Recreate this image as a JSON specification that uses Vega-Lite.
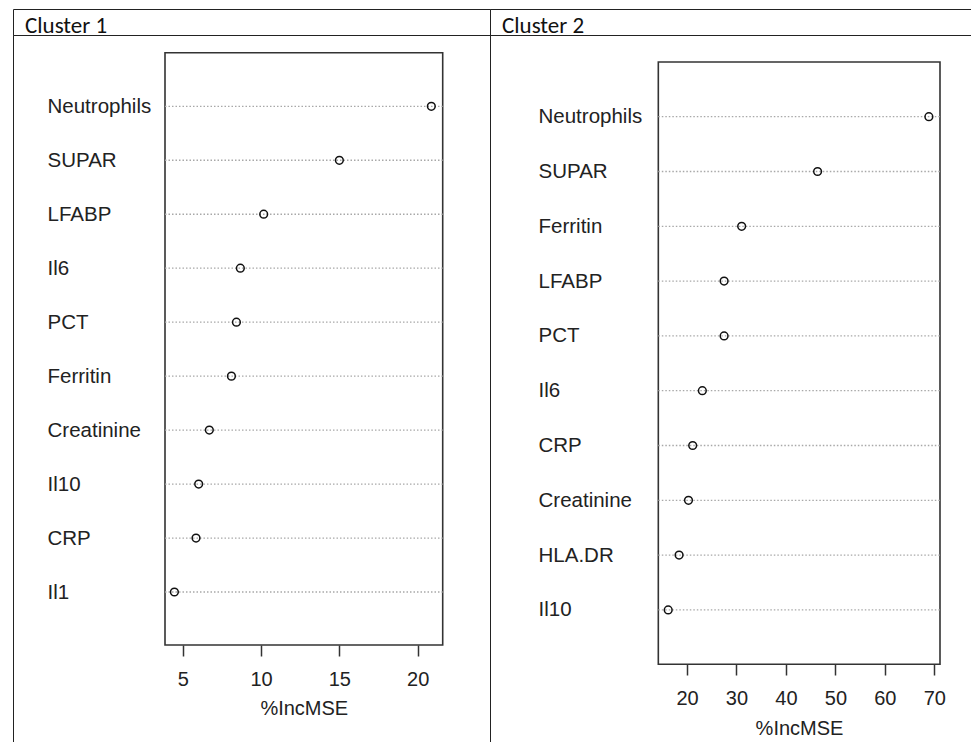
{
  "$schema": "https://vega.github.io/schema/vega-lite/v6.json",
  "background": "white",
  "padding": {"left": 12, "top": 8, "right": 0, "bottom": 0},
  "spacing": 0,
  "bounds": "flush",
  "align": "each",
  "columns": 2,
  "datasets": {
    "c1": [
      {"variable": "Neutrophils", "value": 20.87},
      {"variable": "SUPAR", "value": 15.0},
      {"variable": "LFABP", "value": 10.17},
      {"variable": "Il6", "value": 8.68},
      {"variable": "PCT", "value": 8.43},
      {"variable": "Ferritin", "value": 8.11},
      {"variable": "Creatinine", "value": 6.70},
      {"variable": "Il10", "value": 6.02},
      {"variable": "CRP", "value": 5.85},
      {"variable": "Il1", "value": 4.47}
    ],
    "c2": [
      {"variable": "Neutrophils", "value": 68.9},
      {"variable": "SUPAR", "value": 46.4},
      {"variable": "Ferritin", "value": 31.05},
      {"variable": "LFABP", "value": 27.5},
      {"variable": "PCT", "value": 27.5},
      {"variable": "Il6", "value": 23.1},
      {"variable": "CRP", "value": 21.15},
      {"variable": "Creatinine", "value": 20.3},
      {"variable": "HLA.DR", "value": 18.4},
      {"variable": "Il10", "value": 16.2}
    ],
    "h1": [{"cluster": "Cluster 1"}],
    "h2": [{"cluster": "Cluster 2"}],
    "frame": [{}]
  },
  "concat": [
    {
      "width": 477, "height": 26,
      "data": {"name": "h1"},
      "mark": {"type": "text", "align": "left", "baseline": "alphabetic", "dx": 12, "dy": 10.7, "font": "Carlito, Lato", "fontSize": 23, "color": "#111"},
      "encoding": {
        "text": {"field": "cluster"},
        "x": {"field": "cluster", "type": "nominal", "scale": {"type": "point", "padding": 0, "align": 0}, "axis": null}
      }
    },
    {
      "width": 482, "height": 26,
      "data": {"name": "h2"},
      "mark": {"type": "text", "align": "left", "baseline": "alphabetic", "dx": 12, "dy": 10.7, "font": "Carlito, Lato", "fontSize": 23, "color": "#111"},
      "encoding": {
        "text": {"field": "cluster"},
        "x": {"field": "cluster", "type": "nominal", "scale": {"type": "point", "padding": 0, "align": 0}, "axis": null}
      }
    },
    {
      "width": 477, "height": 710,
      "resolve": {"scale": {"y": "independent"}},
      "layer": [
        {
          "data": {"name": "frame"},
          "mark": {"type": "rect", "filled": false, "color": "#333", "strokeWidth": 1.6},
          "encoding": {
            "x": {"datum": 3.87, "type": "quantitative",
              "scale": {"domain": [-5.832, 24.615], "nice": false, "zero": false},
              "axis": {"orient": "bottom", "offset": -100, "values": [5, 10, 15, 20], "domain": false, "grid": false,
                "tickSize": 11, "tickColor": "#333", "tickWidth": 1.5, "labelFontSize": 20, "labelColor": "#222", "labelPadding": 13,
                "title": "%IncMSE", "titleFontSize": 20, "titleFontWeight": "normal", "titleColor": "#222", "titleX": 290.8, "titlePadding": 9}},
            "x2": {"datum": 21.596},
            "y": {"datum": 0, "type": "quantitative", "scale": {"domain": [0, 11], "range": [610, 17.7], "nice": false, "zero": false}, "axis": null},
            "y2": {"datum": 11}
          }
        },
        {
          "data": {"name": "c1"},
          "layer": [
            {
              "mark": {"type": "rule", "color": "#a8a8a8", "strokeDash": [1.5, 2], "strokeWidth": 1.3},
              "encoding": {
                "y": {"field": "variable", "type": "nominal", "sort": null,
                  "scale": {"type": "point", "padding": 0, "range": [71.3, 557], "round": false},
                  "axis": {"orient": "left", "offset": -34, "domain": false, "ticks": false, "grid": false, "labelAlign": "left", "labelPadding": 0,
                    "labelFontSize": 20.5, "labelColor": "#222", "title": null}},
                "x": {"datum": 3.87, "type": "quantitative"},
                "x2": {"datum": 21.596}
              }
            },
            {
              "mark": {"type": "point", "shape": "circle", "filled": false, "color": "#111", "size": 60, "strokeWidth": 1.5, "opacity": 1},
              "encoding": {
                "y": {"field": "variable", "type": "nominal", "sort": null},
                "x": {"field": "value", "type": "quantitative"}
              }
            }
          ]
        }
      ]
    },
    {
      "width": 482, "height": 710,
      "resolve": {"scale": {"y": "independent"}},
      "layer": [
        {
          "data": {"name": "frame"},
          "mark": {"type": "rect", "filled": false, "color": "#333", "strokeWidth": 1.6},
          "encoding": {
            "x": {"datum": 14.2, "type": "quantitative",
              "scale": {"domain": [-19.83, 77.62], "nice": false, "zero": false},
              "axis": {"orient": "bottom", "offset": -81, "values": [20, 30, 40, 50, 60, 70], "domain": false, "grid": false,
                "tickSize": 11, "tickColor": "#333", "tickWidth": 1.5, "labelFontSize": 20, "labelColor": "#222", "labelPadding": 13,
                "title": "%IncMSE", "titleFontSize": 20, "titleFontWeight": "normal", "titleColor": "#222", "titleX": 309, "titlePadding": 10}},
            "x2": {"datum": 71.15},
            "y": {"datum": 0, "type": "quantitative", "scale": {"domain": [0, 11], "range": [629.3, 27], "nice": false, "zero": false}, "axis": null},
            "y2": {"datum": 11}
          }
        },
        {
          "data": {"name": "c2"},
          "layer": [
            {
              "mark": {"type": "rule", "color": "#a8a8a8", "strokeDash": [1.5, 2], "strokeWidth": 1.3},
              "encoding": {
                "y": {"field": "variable", "type": "nominal", "sort": null,
                  "scale": {"type": "point", "padding": 0, "range": [81.7, 574.9], "round": false},
                  "axis": {"orient": "left", "offset": -48, "domain": false, "ticks": false, "grid": false, "labelAlign": "left", "labelPadding": 0,
                    "labelFontSize": 20.5, "labelColor": "#222", "title": null}},
                "x": {"datum": 14.2, "type": "quantitative"},
                "x2": {"datum": 71.15}
              }
            },
            {
              "mark": {"type": "point", "shape": "circle", "filled": false, "color": "#111", "size": 60, "strokeWidth": 1.5, "opacity": 1},
              "encoding": {
                "y": {"field": "variable", "type": "nominal", "sort": null},
                "x": {"field": "value", "type": "quantitative"}
              }
            }
          ]
        }
      ]
    }
  ],
  "config": {
    "font": "Liberation Sans",
    "view": {"stroke": "#222", "strokeWidth": 1}
  }
}
